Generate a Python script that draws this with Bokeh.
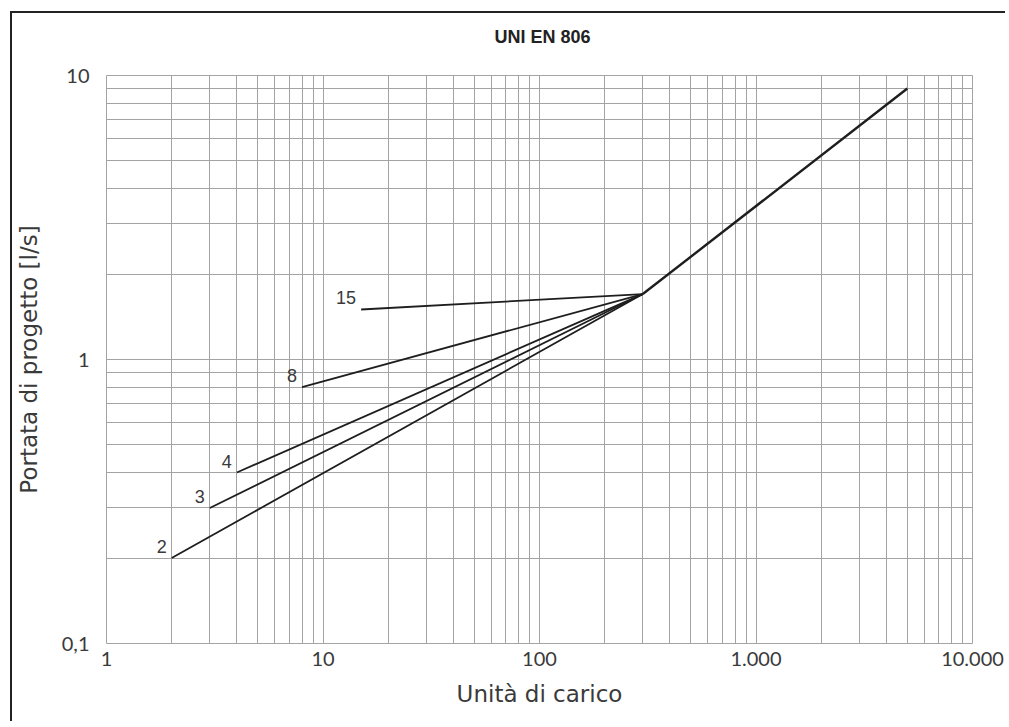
from bokeh.plotting import figure
from bokeh.models import FixedTicker, ColumnDataSource, Title
from bokeh.core.properties import value
from bokeh.embed import file_html
from bokeh.resources import INLINE

# ---- data ----
title_text = "UNI EN 806"
x_label = "Unità di carico"
y_label = "Portata di progetto [l/s]"

branch_labels = ["2", "3", "4", "8", "15"]
branch_start_x = [2, 3, 4, 8, 15]
branch_start_y = [0.2, 0.3, 0.4, 0.8, 1.5]
knee_x = 300
knee_y = 1.7
end_x = 5000
end_y = 9.0

x_major = [1, 10, 100, 1000, 10000]
x_major_labels = ["1", "10", "100", "1.000", "10.000"]
y_major = [0.1, 1, 10]
y_major_labels = ["0,1", "1", "10"]

GRID = "#a3a3a3"
INK = "#1e1e1e"
TXT = "#3a3a3a"

x_minor = [m * d for d in (1, 10, 100, 1000) for m in range(2, 10)]
y_minor = [m * d for d in (0.1, 1) for m in range(2, 10)]

p = figure(
    width=995, height=710,
    x_axis_type="log", y_axis_type="log",
    x_range=(1, 10000), y_range=(0.1, 10),
    output_backend="svg", toolbar_location=None,
    min_border_left=92, min_border_right=35,
    min_border_top=62, min_border_bottom=80,
    background_fill_color="white", border_fill_color="white",
    outline_line_color=GRID, outline_line_width=1,
)
p.styles = {"margin-left": "10px", "margin-top": "11px",
            "border-left": "2px solid #222", "border-top": "2px solid #222"}

# title: an empty second line keeps it well above the plot area
p.add_layout(Title(text=title_text + "\n", align="left", offset=388, vertical_align="top",
                   standoff=13, text_font="Liberation Sans", text_font_style="bold",
                   text_font_size="18px", text_color="#222222"), "above")

p.xaxis.ticker = FixedTicker(ticks=x_major, minor_ticks=x_minor)
p.yaxis.ticker = FixedTicker(ticks=y_major, minor_ticks=y_minor)
p.xaxis.major_label_overrides = {t: l for t, l in zip(x_major, x_major_labels)}
p.yaxis.major_label_overrides = {t: l for t, l in zip(y_major, y_major_labels)}

for ax in (p.xaxis, p.yaxis):
    ax.axis_line_color = None
    ax.major_tick_line_color = None
    ax.minor_tick_line_color = None
    ax.major_label_text_font = "Lato"
    ax.major_label_text_font_size = "20px"
    ax.major_label_text_color = TXT
    ax.axis_label_text_font = "DejaVu Sans"
    ax.axis_label_text_font_size = "23px"
    ax.axis_label_text_font_style = "normal"
    ax.axis_label_text_color = TXT

p.xaxis.axis_label = x_label
p.yaxis.axis_label = y_label
p.yaxis.major_label_text_baseline = "alphabetic"
p.yaxis.major_label_standoff = 11
p.xaxis.major_label_standoff = 2
p.xaxis.axis_label_standoff = 12
p.yaxis.axis_label_standoff = 17

for g in (p.xgrid, p.ygrid):
    g.grid_line_color = GRID
    g.grid_line_width = 1
    g.minor_grid_line_color = GRID
    g.minor_grid_line_width = 1

# branches converging at the knee
src = ColumnDataSource(dict(
    xs=[[sx, knee_x] for sx in branch_start_x],
    ys=[[sy, knee_y] for sy in branch_start_y],
))
p.multi_line("xs", "ys", source=src, line_color=INK, line_width=1.8)
p.line([knee_x, end_x], [knee_y, end_y], line_color=INK, line_width=2.4)

lab = ColumnDataSource(dict(x=branch_start_x, y=branch_start_y, t=branch_labels))
p.text("x", "y", text="t", source=lab, x_offset=-5, y_offset=-5,
       text_align="right", text_baseline="bottom",
       text_font=value("Liberation Sans"), text_font_size="18px", text_color=TXT)

open("out.html", "w").write(file_html(p, INLINE))
